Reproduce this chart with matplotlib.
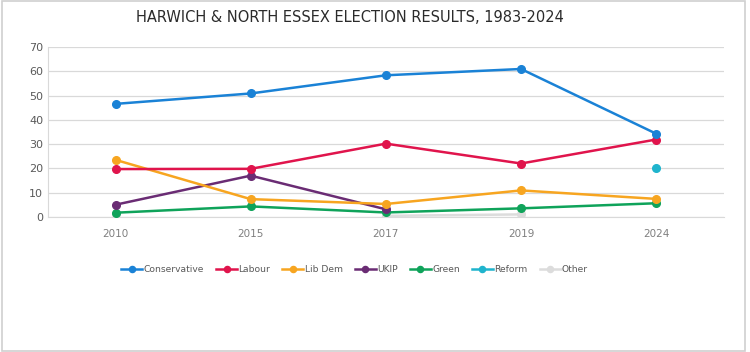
import numpy as np
import matplotlib
matplotlib.use("Agg")
import matplotlib.pyplot as plt
from matplotlib.patches import Rectangle

# election years and vote share (%)
years = ["2010", "2015", "2017", "2019", "2024"]
conservative = [46.6, 50.9, 58.4, 61.0, 34.3]
labour = [19.7, 19.8, 30.2, 22.0, 31.9]
lib_dem = [23.5, 7.3, 5.3, 10.9, 7.4]
ukip = [5.0, 17.0, 3.1, np.nan, np.nan]
green = [1.7, 4.3, 1.8, 3.5, 5.6]
reform = [np.nan, np.nan, np.nan, np.nan, 20.2]
other = [1.3, np.nan, 0.4, 1.0, np.nan]

series = [
    ("Conservative", conservative, "#1a82d6"),
    ("Labour", labour, "#e0144c"),
    ("Lib Dem", lib_dem, "#f7a520"),
    ("UKIP", ukip, "#6a2c74"),
    ("Green", green, "#0fa35a"),
    ("Reform", reform, "#1fb4cd"),
    ("Other", other, "#dcdcdc"),
]

fig = plt.figure(figsize=(7.5, 3.52), dpi=100)
ax = fig.add_axes([0.064, 0.384, 0.901, 0.482])

x = np.arange(len(years))
# draw Other first so it sits underneath
for name, vals, col in reversed(series):
    ax.plot(x, vals, color=col, lw=1.8, marker="o", ms=5.5, label=name,
            zorder=3 if name != "Other" else 2)

ax.set_xlim(-0.5, len(years) - 0.5)
ax.set_ylim(0, 70)
ax.set_yticks(range(0, 71, 10))
ax.set_xticks(x)
ax.set_xticklabels(years)
ax.grid(axis="y", color="#d9d9d9", lw=0.9)
ax.set_axisbelow(True)
for s in ["top", "right"]:
    ax.spines[s].set_visible(False)
ax.spines["left"].set_color("#d9d9d9")
ax.spines["bottom"].set_color("#d9d9d9")
ax.tick_params(length=0, colors="#595959", labelsize=8)
ax.tick_params(axis="x", pad=9)
for t in ax.get_xticklabels():
    t.set_fontsize(7.5)
    t.set_color("#7f7f7f")

fig.text(0.466, 0.949, "HARWICH & NORTH ESSEX ELECTION RESULTS, 1983-2024",
         ha="center", va="center", fontsize=10.5, color="#2b2b2b")

handles, labels = ax.get_legend_handles_labels()
handles, labels = handles[::-1], labels[::-1]
fig.legend(handles, labels, loc="center", bbox_to_anchor=(0.473, 0.233), ncol=7,
           frameon=False, fontsize=6.6, labelcolor="#595959",
           handlelength=2.3, handletextpad=0.15, columnspacing=1.3,
           markerscale=0.8)

fig.patches.append(Rectangle((0.003, 0.003), 0.99, 0.994, transform=fig.transFigure,
                             fill=False, edgecolor="#d0d0d0", lw=1.2))

fig.savefig("out.png", dpi=100)
